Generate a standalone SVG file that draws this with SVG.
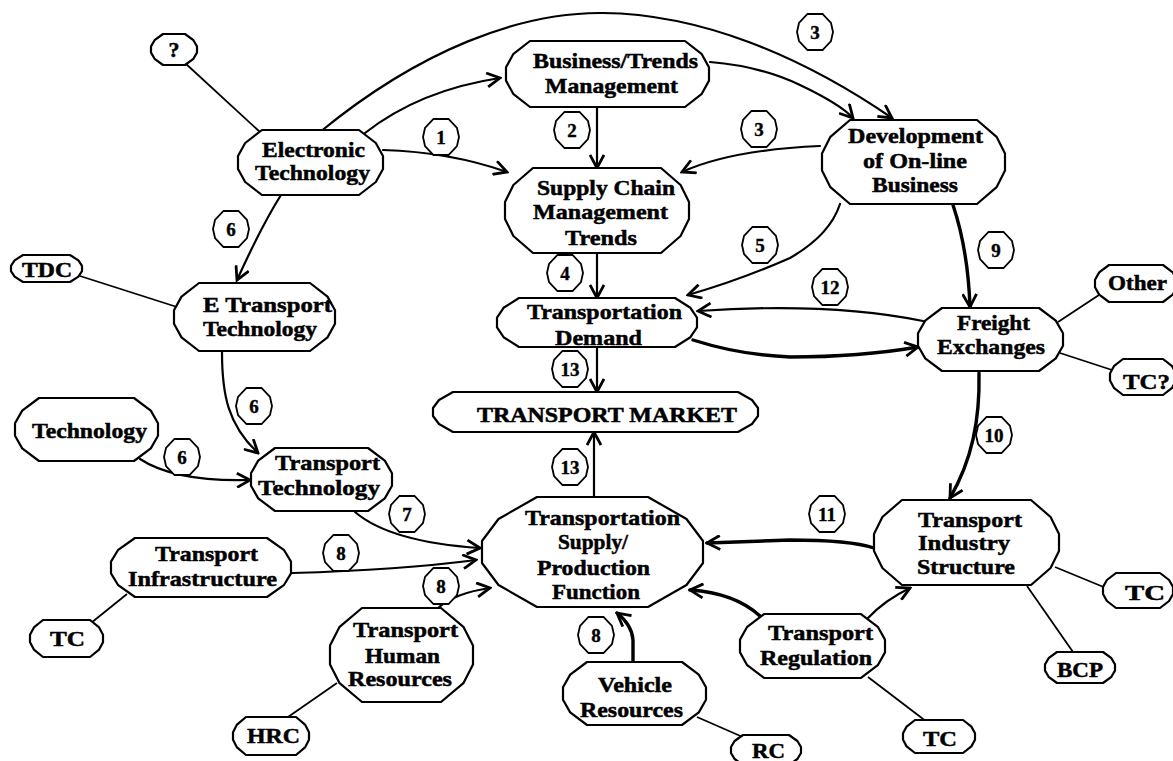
<svg xmlns="http://www.w3.org/2000/svg" xmlns:xlink="http://www.w3.org/1999/xlink" width="1173" height="761" viewBox="0 0 1173 761">
  <style>
    .shape { fill: #ffffff; stroke: #000000; stroke-width: 2.2; stroke-linejoin: round; }
    .lbl { font-family: "Liberation Serif", "Times New Roman", serif; font-weight: bold; font-size: 22px; fill: #000000; stroke: #000000; stroke-width: 0.5; }
    .small { font-size: 20px; }
    .num { font-family: "Liberation Serif", "Times New Roman", serif; font-weight: bold; font-size: 19px; fill: #000000; stroke: #000000; stroke-width: 0.4; text-anchor: middle; }
    .link { fill: none; stroke: #000000; stroke-width: 2.2; stroke-linecap: round; }
    .arrow { marker-end: url(#head); }
    .thick { stroke-width: 3.4; }
    .tie { fill: none; stroke: #000000; stroke-width: 1.8; }
  </style>
  <defs>
    <marker id="head" viewBox="0 0 16 16" refX="14" refY="8" markerWidth="16" markerHeight="16" markerUnits="userSpaceOnUse" orient="auto">
      <path d="M1,1 L14,8 L1,15" fill="none" stroke="#000000" stroke-width="2.8" stroke-linejoin="miter"/>
    </marker>
    <path id="badge" d="M-7.5,-18 L7.5,-18 L16,-9 L18,0 L16,9 L7.5,18 L-7.5,18 L-16,9 L-18,0 L-16,-9 Z" fill="#ffffff" stroke="#000000" stroke-width="1.8"/>
  </defs>
  <rect width="1173" height="761" fill="#ffffff"/>

  <!-- connectors -->
  <g id="connectors">
    <!-- plain ties to side notes -->
    <path class="tie" d="M185,63 L261,133"/>
    <path class="tie" d="M80,276 L177,307"/>
    <path class="tie" d="M1102,293 L1058,322"/>
    <path class="tie" d="M1112,370 L1060,353"/>
    <path class="tie" d="M127,594 L91,623"/>
    <path class="tie" d="M337,683 L288,717"/>
    <path class="tie" d="M697,717 L745,738"/>
    <path class="tie" d="M868,677 L927,722"/>
    <path class="tie" d="M1055,567 L1106,588"/>
    <path class="tie" d="M1027,586 L1073,652"/>

    <!-- arrows -->
    <path class="link arrow" d="M383,150 Q450,152 507,172"/>
    <path class="link arrow" d="M365,133 Q420,90 500,78"/>
    <path class="link arrow" d="M320,132 C420,50 520,12 603,13 C700,14 800,55 892,118"/>
    <path class="link arrow" d="M710,62 Q760,66 800,85 T853,118"/>
    <path class="link arrow" d="M597,107 L597,168"/>
    <path class="link arrow" d="M820,146 Q730,150 682,172"/>
    <path class="link arrow" d="M840,204 Q830,235 790,258 Q740,280 688,295"/>
    <path class="link arrow" d="M597,253 L597,298"/>
    <path class="link arrow thick" d="M953,205 Q968,250 970,307"/>
    <path class="link arrow" d="M923,321 Q830,302 698,311"/>
    <path class="link arrow thick" d="M693,340 Q740,355 790,357 Q860,357 918,347"/>
    <path class="link arrow" d="M597,347 L597,392"/>
    <path class="link arrow" d="M594,497 L594,432"/>
    <path class="link arrow thick" d="M979,373 C980,420 972,460 950,498"/>
    <path class="link arrow thick" d="M874,548 Q850,540 790,540 L707,543"/>
    <path class="link arrow" d="M868,618 Q885,600 910,588"/>
    <path class="link arrow thick" d="M760,616 Q735,593 690,590"/>
    <path class="link arrow thick" d="M633,662 L633,640 Q632,625 617,613"/>
    <path class="link arrow" d="M438,608 Q455,593 490,588"/>
    <path class="link arrow" d="M292,573 Q400,570 476,560"/>
    <path class="link arrow" d="M355,512 Q390,542 480,548"/>
    <path class="link arrow" d="M222,352 C222,395 228,425 258,453"/>
    <path class="link arrow" d="M281,195 Q262,225 237,280"/>
    <path class="link arrow" d="M140,459 Q175,482 250,480"/>

    <!-- step numbers -->
    <g id="badges">
      <use xlink:href="#badge" x="815" y="32"/><text class="num" x="815" y="38.5">3</text>
      <use xlink:href="#badge" x="441" y="137"/><text class="num" x="441" y="143.5">1</text>
      <use xlink:href="#badge" x="572" y="130"/><text class="num" x="572" y="136.5">2</text>
      <use xlink:href="#badge" x="759" y="129"/><text class="num" x="759" y="135.5">3</text>
      <use xlink:href="#badge" x="760" y="245"/><text class="num" x="760" y="251.5">5</text>
      <use xlink:href="#badge" x="231" y="229"/><text class="num" x="231" y="235.5">6</text>
      <use xlink:href="#badge" x="565" y="273"/><text class="num" x="565" y="279.5">4</text>
      <use xlink:href="#badge" x="570" y="369"/><text class="num" x="570" y="375.5">13</text>
      <use xlink:href="#badge" x="570" y="467"/><text class="num" x="570" y="473.5">13</text>
      <use xlink:href="#badge" x="996" y="250"/><text class="num" x="996" y="256.5">9</text>
      <use xlink:href="#badge" x="830" y="287"/><text class="num" x="830" y="293.5">12</text>
      <use xlink:href="#badge" x="994" y="435"/><text class="num" x="994" y="441.5">10</text>
      <use xlink:href="#badge" x="254" y="406"/><text class="num" x="254" y="412.5">6</text>
      <use xlink:href="#badge" x="182" y="457"/><text class="num" x="182" y="463.5">6</text>
      <use xlink:href="#badge" x="407" y="514"/><text class="num" x="407" y="520.5">7</text>
      <use xlink:href="#badge" x="341" y="553"/><text class="num" x="341" y="559.5">8</text>
      <use xlink:href="#badge" x="441" y="586"/><text class="num" x="441" y="592.5">8</text>
      <use xlink:href="#badge" x="596" y="635"/><text class="num" x="596" y="641.5">8</text>
      <use xlink:href="#badge" x="827" y="514"/><text class="num" x="827" y="520.5">11</text>
    </g>
  </g>

  <!-- nodes -->
  <g id="node-question">
    <path class="shape" d="M163,34 h22 l8.4,6.2 l3.6,6.2 v6.2 l-3.6,6.2 l-8.4,6.2 h-22 l-8.4,-6.2 l-3.6,-6.2 v-6.2 l3.6,-6.2 z"/>
    <text class="lbl" x="174" y="57" text-anchor="middle" font-size="19">?</text>
  </g>
  <g id="node-electronic-technology">
    <path class="shape" d="M262,130 h97 l16.8,13 l7.2,13 v13 l-7.2,13 l-16.8,13 h-97 l-16.8,-13 l-7.2,-13 v-13 l7.2,-13 z"/>
    <text class="lbl" x="262" y="157" textLength="103" lengthAdjust="spacingAndGlyphs">Electronic</text>
    <text class="lbl" x="255" y="180" textLength="115" lengthAdjust="spacingAndGlyphs">Technology</text>
  </g>
  <g id="node-business-trends">
    <path class="shape" d="M530,41 h155 l16.8,13.2 l7.2,13.2 v13.2 l-7.2,13.2 l-16.8,13.2 h-155 l-16.8,-13.2 l-7.2,-13.2 v-13.2 l7.2,-13.2 z"/>
    <text class="lbl" x="533" y="68" textLength="165" lengthAdjust="spacingAndGlyphs">Business/Trends</text>
    <text class="lbl" x="545" y="93" textLength="133" lengthAdjust="spacingAndGlyphs">Management</text>
  </g>
  <g id="node-supply-chain">
    <path class="shape" d="M533,168 h128 l19.6,17 l8.4,17 v17 l-8.4,17 l-19.6,17 h-128 l-19.6,-17 l-8.4,-17 v-17 l8.4,-17 z"/>
    <text class="lbl" x="537" y="195" textLength="138" lengthAdjust="spacingAndGlyphs">Supply Chain</text>
    <text class="lbl" x="533" y="219" textLength="135" lengthAdjust="spacingAndGlyphs">Management</text>
    <text class="lbl" x="565" y="245" textLength="72" lengthAdjust="spacingAndGlyphs">Trends</text>
  </g>
  <g id="node-online-business">
    <path class="shape" d="M850,120 h127 l19.6,16.8 l8.4,16.8 v16.8 l-8.4,16.8 l-19.6,16.8 h-127 l-19.6,-16.8 l-8.4,-16.8 v-16.8 l8.4,-16.8 z"/>
    <text class="lbl" x="848" y="143" textLength="135" lengthAdjust="spacingAndGlyphs">Development</text>
    <text class="lbl" x="863" y="168" textLength="104" lengthAdjust="spacingAndGlyphs">of On-line</text>
    <text class="lbl" x="872" y="192" textLength="86" lengthAdjust="spacingAndGlyphs">Business</text>
  </g>
  <g id="node-e-transport">
    <path class="shape" d="M199,283 h111 l17.5,13.6 l7.5,13.6 v13.6 l-7.5,13.6 l-17.5,13.6 h-111 l-17.5,-13.6 l-7.5,-13.6 v-13.6 l7.5,-13.6 z"/>
    <text class="lbl" x="203" y="312" textLength="129" lengthAdjust="spacingAndGlyphs">E Transport</text>
    <text class="lbl" x="203" y="336" textLength="114" lengthAdjust="spacingAndGlyphs">Technology</text>
  </g>
  <g id="node-tdc">
    <path class="shape" d="M23,255 h47 l8.4,5.4 l3.6,5.4 v5.4 l-3.6,5.4 l-8.4,5.4 h-47 l-8.4,-5.4 l-3.6,-5.4 v-5.4 l3.6,-5.4 z"/>
    <text class="lbl small" x="22" y="277" textLength="50" lengthAdjust="spacingAndGlyphs">TDC</text>
  </g>
  <g id="node-technology">
    <path class="shape" d="M39,398 h95 l16.8,12.6 l7.2,12.6 v12.6 l-7.2,12.6 l-16.8,12.6 h-95 l-16.8,-12.6 l-7.2,-12.6 v-12.6 l7.2,-12.6 z"/>
    <text class="lbl" x="32" y="438" textLength="115" lengthAdjust="spacingAndGlyphs">Technology</text>
  </g>
  <g id="node-transport-technology">
    <path class="shape" d="M275,448 h93 l16.8,12.6 l7.2,12.6 v12.6 l-7.2,12.6 l-16.8,12.6 h-93 l-16.8,-12.6 l-7.2,-12.6 v-12.6 l7.2,-12.6 z"/>
    <text class="lbl" x="275" y="470" textLength="105" lengthAdjust="spacingAndGlyphs">Transport</text>
    <text class="lbl" x="258" y="495" textLength="122" lengthAdjust="spacingAndGlyphs">Technology</text>
  </g>
  <g id="node-demand">
    <path class="shape" d="M519,298 h156 l15.4,9.8 l6.6,9.8 v9.8 l-6.6,9.8 l-15.4,9.8 h-156 l-15.4,-9.8 l-6.6,-9.8 v-9.8 l6.6,-9.8 z"/>
    <text class="lbl" x="527" y="319" textLength="155" lengthAdjust="spacingAndGlyphs">Transportation</text>
    <text class="lbl" x="555" y="345" textLength="87" lengthAdjust="spacingAndGlyphs">Demand</text>
  </g>
  <g id="node-market">
    <path class="shape" d="M453,392 h285 l14,8 l6,8 v8 l-6,8 l-14,8 h-285 l-14,-8 l-6,-8 v-8 l6,-8 z"/>
    <text class="lbl small" x="477" y="422" textLength="260" lengthAdjust="spacingAndGlyphs">TRANSPORT MARKET</text>
  </g>
  <g id="node-freight">
    <path class="shape" d="M942,308 h97 l16.8,12.6 l7.2,12.6 v12.6 l-7.2,12.6 l-16.8,12.6 h-97 l-16.8,-12.6 l-7.2,-12.6 v-12.6 l7.2,-12.6 z"/>
    <text class="lbl" x="957" y="330" textLength="73" lengthAdjust="spacingAndGlyphs">Freight</text>
    <text class="lbl" x="937" y="354" textLength="108" lengthAdjust="spacingAndGlyphs">Exchanges</text>
  </g>
  <g id="node-other">
    <path class="shape" d="M1109,265 h54 l9.8,7.4 l4.2,7.4 v7.4 l-4.2,7.4 l-9.8,7.4 h-54 l-9.8,-7.4 l-4.2,-7.4 v-7.4 l4.2,-7.4 z"/>
    <text class="lbl" x="1108" y="290" textLength="59" lengthAdjust="spacingAndGlyphs">Other</text>
  </g>
  <g id="node-tc-freight">
    <path class="shape" d="M1123,359 h40 l9.1,7.2 l3.9,7.2 v7.2 l-3.9,7.2 l-9.1,7.2 h-40 l-9.1,-7.2 l-3.9,-7.2 v-7.2 l3.9,-7.2 z"/>
    <text class="lbl" x="1123" y="389" textLength="47" lengthAdjust="spacingAndGlyphs">TC?</text>
  </g>
  <g id="node-industry">
    <path class="shape" d="M902,500 h129 l19.6,17 l8.4,17 v17 l-8.4,17 l-19.6,17 h-129 l-19.6,-17 l-8.4,-17 v-17 l8.4,-17 z"/>
    <text class="lbl" x="918" y="527" textLength="104" lengthAdjust="spacingAndGlyphs">Transport</text>
    <text class="lbl" x="918" y="550" textLength="92" lengthAdjust="spacingAndGlyphs">Industry</text>
    <text class="lbl" x="917" y="574" textLength="98" lengthAdjust="spacingAndGlyphs">Structure</text>
  </g>
  <g id="node-tc-industry">
    <path class="shape" d="M1116,573 h44 l9.1,7 l3.9,7 v7 l-3.9,7 l-9.1,7 h-44 l-9.1,-7 l-3.9,-7 v-7 l3.9,-7 z"/>
    <text class="lbl" x="1125" y="600" textLength="40" lengthAdjust="spacingAndGlyphs">TC</text>
  </g>
  <g id="node-bcp">
    <path class="shape" d="M1057,652 h46 l8.4,6.2 l3.6,6.2 v6.2 l-3.6,6.2 l-8.4,6.2 h-46 l-8.4,-6.2 l-3.6,-6.2 v-6.2 l3.6,-6.2 z"/>
    <text class="lbl" x="1057" y="677" textLength="46" lengthAdjust="spacingAndGlyphs">BCP</text>
  </g>
  <g id="node-regulation">
    <path class="shape" d="M764,614 h97 l16.8,12.8 l7.2,12.8 v12.8 l-7.2,12.8 l-16.8,12.8 h-97 l-16.8,-12.8 l-7.2,-12.8 v-12.8 l7.2,-12.8 z"/>
    <text class="lbl" x="768" y="640" textLength="105" lengthAdjust="spacingAndGlyphs">Transport</text>
    <text class="lbl" x="760" y="665" textLength="112" lengthAdjust="spacingAndGlyphs">Regulation</text>
  </g>
  <g id="node-tc-regulation">
    <path class="shape" d="M915,720 h48 l8.4,6.6 l3.6,6.6 v6.6 l-3.6,6.6 l-8.4,6.6 h-48 l-8.4,-6.6 l-3.6,-6.6 v-6.6 l3.6,-6.6 z"/>
    <text class="lbl" x="923" y="746" textLength="34" lengthAdjust="spacingAndGlyphs">TC</text>
  </g>
  <g id="node-vehicle">
    <path class="shape" d="M587,662 h95 l16.8,12.6 l7.2,12.6 v12.6 l-7.2,12.6 l-16.8,12.6 h-95 l-16.8,-12.6 l-7.2,-12.6 v-12.6 l7.2,-12.6 z"/>
    <text class="lbl" x="598" y="692" textLength="74" lengthAdjust="spacingAndGlyphs">Vehicle</text>
    <text class="lbl" x="580" y="717" textLength="103" lengthAdjust="spacingAndGlyphs">Resources</text>
  </g>
  <g id="node-rc">
    <path class="shape" d="M743,735 h46 l8.4,6 l3.6,6 v6 l-3.6,6 l-8.4,6 h-46 l-8.4,-6 l-3.6,-6 v-6 l3.6,-6 z"/>
    <text class="lbl" x="752" y="758" textLength="33" lengthAdjust="spacingAndGlyphs">RC</text>
  </g>
  <g id="node-supply-production">
    <path class="shape" d="M537,497 h111 l38.5,22 l16.5,22 v22 l-16.5,22 l-38.5,22 h-111 l-38.5,-22 l-16.5,-22 v-22 l16.5,-22 z"/>
    <text class="lbl" x="525" y="525" textLength="155" lengthAdjust="spacingAndGlyphs">Transportation</text>
    <text class="lbl" x="558" y="549" textLength="70" lengthAdjust="spacingAndGlyphs">Supply/</text>
    <text class="lbl" x="537" y="575" textLength="113" lengthAdjust="spacingAndGlyphs">Production</text>
    <text class="lbl" x="552" y="599" textLength="88" lengthAdjust="spacingAndGlyphs">Function</text>
  </g>
  <g id="node-human-resources">
    <path class="shape" d="M362,608 h79 l22.4,18.8 l9.6,18.8 v18.8 l-9.6,18.8 l-22.4,18.8 h-79 l-22.4,-18.8 l-9.6,-18.8 v-18.8 l9.6,-18.8 z"/>
    <text class="lbl" x="353" y="637" textLength="105" lengthAdjust="spacingAndGlyphs">Transport</text>
    <text class="lbl" x="365" y="663" textLength="75" lengthAdjust="spacingAndGlyphs">Human</text>
    <text class="lbl" x="348" y="686" textLength="104" lengthAdjust="spacingAndGlyphs">Resources</text>
  </g>
  <g id="node-hrc">
    <path class="shape" d="M246,717 h50 l9,7.6 l4,7.6 v7.6 l-4,7.6 l-9,7.6 h-50 l-9,-7.6 l-4,-7.6 v-7.6 l4,-7.6 z"/>
    <text class="lbl" x="247" y="743" textLength="53" lengthAdjust="spacingAndGlyphs">HRC</text>
  </g>
  <g id="node-infrastructure">
    <path class="shape" d="M135,538 h132 l16.8,11.8 l7.2,11.8 v11.8 l-7.2,11.8 l-16.8,11.8 h-132 l-16.8,-11.8 l-7.2,-11.8 v-11.8 l7.2,-11.8 z"/>
    <text class="lbl" x="155" y="561" textLength="103" lengthAdjust="spacingAndGlyphs">Transport</text>
    <text class="lbl" x="128" y="586" textLength="149" lengthAdjust="spacingAndGlyphs">Infrastructure</text>
  </g>
  <g id="node-tc-infrastructure">
    <path class="shape" d="M43,620 h47 l9.1,7.4 l3.9,7.4 v7.4 l-3.9,7.4 l-9.1,7.4 h-47 l-9.1,-7.4 l-3.9,-7.4 v-7.4 l3.9,-7.4 z"/>
    <text class="lbl" x="50" y="646" textLength="35" lengthAdjust="spacingAndGlyphs">TC</text>
  </g>
</svg>
